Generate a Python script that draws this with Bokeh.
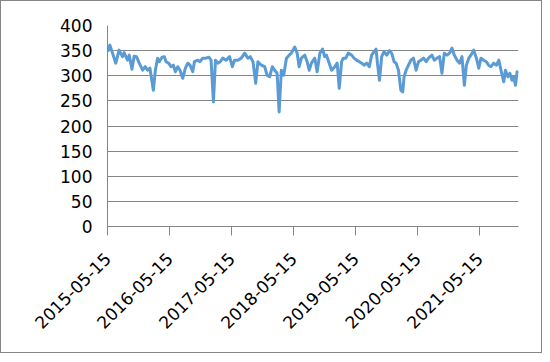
import math
import pandas as pd
from bokeh.plotting import figure
from bokeh.models import Range1d, FixedTicker, DatetimeTickFormatter, ColumnDataSource
from bokeh.embed import file_html
from bokeh.resources import INLINE

dates = [
    "2015-05-15", "2015-05-29", "2015-07-03", "2015-07-22", "2015-08-11", "2015-08-21",
    "2015-09-10", "2015-09-20", "2015-10-06", "2015-10-19", "2015-11-02", "2015-11-18",
    "2015-12-08", "2015-12-23", "2016-01-06", "2016-01-20", "2016-02-09", "2016-02-21",
    "2016-03-05", "2016-03-15", "2016-03-31", "2016-04-14", "2016-04-24", "2016-05-09",
    "2016-05-23", "2016-06-06", "2016-06-18", "2016-07-02", "2016-07-15", "2016-07-31",
    "2016-08-16", "2016-08-30", "2016-09-12", "2016-09-28", "2016-10-08", "2016-10-28",
    "2016-11-10", "2016-11-26", "2016-12-16", "2017-01-01", "2017-01-14", "2017-01-28",
    "2017-02-09", "2017-02-23", "2017-03-09", "2017-03-24", "2017-04-13", "2017-05-03",
    "2017-05-19", "2017-06-01", "2017-06-21", "2017-07-11", "2017-07-31", "2017-08-19",
    "2017-09-02", "2017-09-18", "2017-10-04", "2017-10-17", "2017-11-06", "2017-11-26",
    "2017-12-10", "2017-12-25", "2018-01-10", "2018-01-24", "2018-02-07", "2018-02-19",
    "2018-03-04", "2018-03-18", "2018-04-03", "2018-04-19", "2018-05-02", "2018-05-22",
    "2018-06-05", "2018-06-17", "2018-06-30", "2018-07-20", "2018-08-03", "2018-08-15",
    "2018-08-28", "2018-09-17", "2018-10-01", "2018-10-17", "2018-11-02", "2018-11-14",
    "2018-11-25", "2018-12-11", "2018-12-25", "2019-01-13", "2019-01-27", "2019-02-08",
    "2019-02-22", "2019-03-04", "2019-03-19", "2019-04-02", "2019-04-22", "2019-05-06",
    "2019-05-21", "2019-06-06", "2019-06-20", "2019-07-04", "2019-07-20", "2019-08-04",
    "2019-08-18", "2019-09-01", "2019-09-13", "2019-09-21", "2019-10-03", "2019-10-16",
    "2019-10-30", "2019-11-15", "2019-12-01", "2019-12-14", "2019-12-28", "2020-01-09",
    "2020-01-23", "2020-02-06", "2020-02-17", "2020-02-25", "2020-03-08", "2020-03-22",
    "2020-04-05", "2020-04-20", "2020-05-06", "2020-05-20", "2020-06-03", "2020-06-19",
    "2020-07-04", "2020-07-18", "2020-08-07", "2020-08-21", "2020-09-06", "2020-09-21",
    "2020-10-05", "2020-10-19", "2020-11-04", "2020-11-19", "2020-12-03", "2020-12-17",
    "2021-01-02", "2021-01-17", "2021-01-31", "2021-02-14", "2021-02-26", "2021-03-12",
    "2021-03-25", "2021-04-10", "2021-04-26", "2021-05-10", "2021-05-23", "2021-06-08",
    "2021-06-23", "2021-07-07", "2021-07-21", "2021-08-06", "2021-08-22", "2021-09-05",
    "2021-09-18", "2021-10-04", "2021-10-14", "2021-10-28", "2021-11-09", "2021-11-22",
    "2021-12-02", "2021-12-12", "2021-12-22", "2021-12-30",
]

values = [
    348, 361, 325, 351, 338, 346,
    331, 341, 313, 339, 338, 325,
    311, 318, 311, 315, 271, 311,
    335, 328, 337, 338, 328, 325,
    318, 321, 308, 318, 311, 295,
    315, 325, 321, 308, 328, 331,
    328, 335, 335, 337, 331, 248,
    331, 325, 328, 335, 331, 338,
    318, 331, 331, 335, 345, 335,
    338, 328, 285, 328, 321, 318,
    301, 298, 318, 311, 305, 228,
    311, 301, 335, 341, 345, 357,
    345, 318, 335, 341, 328, 311,
    325, 335, 308, 345, 353, 338,
    341, 325, 311, 318, 325, 275,
    328, 335, 335, 345, 341, 335,
    331, 328, 325, 321, 325, 318,
    341, 348, 353, 325, 291, 338,
    348, 341, 350, 345, 328, 325,
    311, 271, 268, 298, 311, 321,
    331, 335, 311, 328, 331, 335,
    328, 335, 341, 331, 335, 338,
    305, 345, 341, 345, 355, 341,
    331, 325, 338, 281, 321, 335,
    341, 351, 335, 315, 335, 331,
    328, 321, 318, 325, 321, 331,
    311, 288, 311, 298, 305, 291,
    298, 281, 308, 305,
]

tick_labels = ["2015-05-15", "2016-05-15", "2017-05-15", "2018-05-15",
               "2019-05-15", "2020-05-15", "2021-05-15"]
y_ticks = [0, 50, 100, 150, 200, 250, 300, 350, 400]

src = ColumnDataSource(data=dict(x=pd.to_datetime(dates), y=values))

GRID = "#868686"
FONT = "DejaVu Sans"

p = figure(
    x_axis_type="datetime",
    output_backend="svg",
    toolbar_location=None,
    frame_width=411,
    frame_height=201,
    min_border_left=106,
    min_border_right=23,
    min_border_top=24,
    min_border_bottom=126,
    x_range=Range1d(pd.Timestamp(tick_labels[0]), pd.Timestamp(dates[-1])),
    y_range=Range1d(y_ticks[0], y_ticks[-1]),
    background_fill_color="white",
    border_fill_color="white",
    styles={"border": "1px solid #868686"},
)
p.outline_line_color = None

p.line("x", "y", source=src, line_color="#5B9BD5", line_width=3, line_join="round")

# x axis
tick_ms = [pd.Timestamp(t).value // 10**6 for t in tick_labels]
p.xaxis.ticker = FixedTicker(ticks=tick_ms)
fmt = "%Y-%m-%d"
p.xaxis.formatter = DatetimeTickFormatter(
    microseconds=fmt, milliseconds=fmt, seconds=fmt, minsec=fmt, minutes=fmt,
    hourmin=fmt, hours=fmt, days=fmt, months=fmt, years=fmt)
p.xaxis.major_label_orientation = math.pi / 4
p.xaxis.major_label_text_font = FONT
p.xaxis.major_label_text_font_size = "17px"
p.xaxis.major_label_text_color = "black"
p.xaxis.major_tick_out = 9
p.xaxis.major_tick_in = 0
p.xaxis.minor_tick_out = 0
p.xaxis.minor_tick_in = 0
p.xaxis.axis_line_color = GRID
p.xaxis.major_tick_line_color = GRID
p.xaxis.major_label_standoff = 20

# y axis
p.yaxis.ticker = FixedTicker(ticks=y_ticks)
p.yaxis.major_label_text_font = FONT
p.yaxis.major_label_text_font_size = "17px"
p.yaxis.major_label_text_color = "black"
p.yaxis.major_tick_out = 0
p.yaxis.major_tick_in = 0
p.yaxis.minor_tick_out = 0
p.yaxis.minor_tick_in = 0
p.yaxis.axis_line_color = GRID
p.yaxis.major_label_standoff = 15

p.xgrid.grid_line_color = None
p.ygrid.grid_line_color = GRID
p.ygrid.ticker = FixedTicker(ticks=y_ticks)

open("out.html", "w").write(file_html(p, INLINE))
